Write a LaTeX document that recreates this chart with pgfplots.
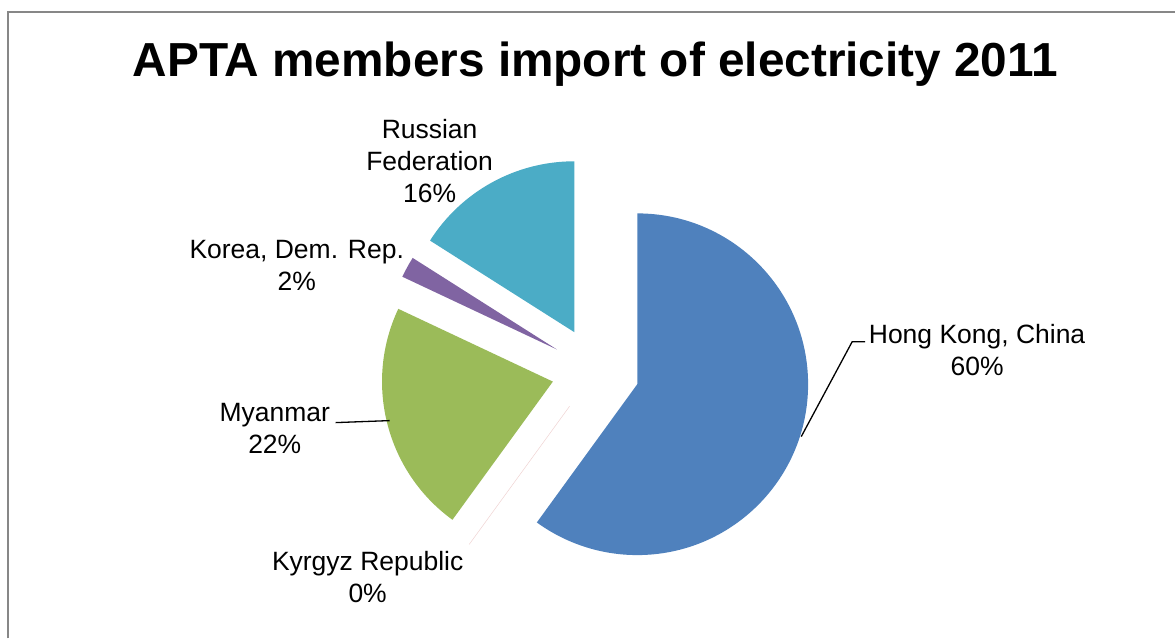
\documentclass[border=0pt]{standalone}
\usepackage{pgfplots}
\pgfplotsset{compat=1.18}
\usepackage{fontspec}
\setmainfont{Liberation Sans}
\definecolor{hk}{HTML}{4F81BD}
\definecolor{kg}{HTML}{C0504D}
\definecolor{my}{HTML}{9BBB59}
\definecolor{kr}{HTML}{8064A2}
\definecolor{ru}{HTML}{4BACC6}
\begin{document}
\begin{tikzpicture}
\begin{axis}[xmin=0,xmax=1176,ymin=0,ymax=639,width=1176bp,height=639bp,
  scale only axis,hide axis,clip=false]
\path (axis cs:0,0) rectangle (axis cs:1176,639);
\draw[black!47,line width=2.2bp] (axis cs:8,0) -- (axis cs:8,627) -- (axis cs:1176,627);
\node[font=\bfseries\fontsize{47.8bp}{52bp}\selectfont] at (axis cs:596,575) {APTA members import of electricity 2011};
\def\cx{596}\def\cy{268}\def\r{171}\def\d{44}
\xdef\ang{90}
\foreach \v/\c in {60/hk,0/kg,22/my,2/kr,16/ru}{
  \pgfmathsetmacro\a{\ang}
  \pgfmathsetmacro\b{\ang-3.6*\v}
  \pgfmathsetmacro\m{(\a+\b)/2}
  \pgfmathsetmacro\vx{\cx+\d*cos(\m)}
  \pgfmathsetmacro\vy{\cy+\d*sin(\m)}
  \ifdim\v pt>0pt
    \edef\temp{\noexpand\fill[\c] (axis cs:\vx,\vy) -- ++(\a:\r bp) arc[start angle=\a, end angle=\b, radius=\r bp] -- cycle;}
  \else
    \edef\temp{\noexpand\draw[\c!25,line width=0.5bp] (axis cs:\vx,\vy) -- ++(\a:\r bp);}
  \fi
  \temp
  \xdef\ang{\b}
}
\draw[black,line width=1.3bp] (axis cs:802,202) -- (axis cs:853,297) -- (axis cs:866,297);
\draw[black,line width=1.3bp] (axis cs:336,216) -- (axis cs:390,218);
\tikzset{lbl/.style={font=\fontsize{26.5bp}{32bp}\selectfont,align=center,inner sep=0pt}}
\node[lbl] at (axis cs:978,289) {Hong Kong, China\\60\%};
\node[lbl] at (axis cs:368,61) {Kyrgyz Republic\\0\%};
\node[lbl] at (axis cs:275,210) {Myanmar\\22\%};
\node[lbl] at (axis cs:297,373) {Korea, Dem. Rep.\\2\%};
\node[lbl] at (axis cs:430,478) {Russian\\Federation\\16\%};
\end{axis}
\end{tikzpicture}
\end{document}
